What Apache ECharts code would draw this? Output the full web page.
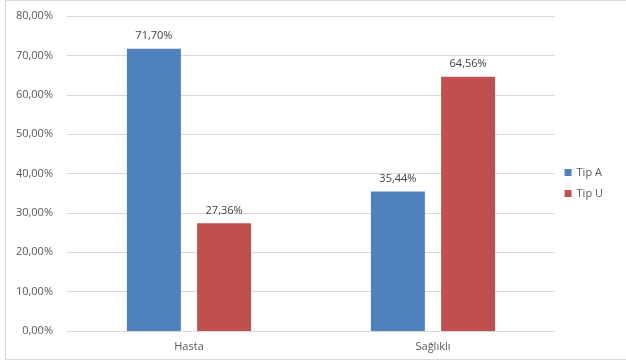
<!DOCTYPE html>
<html><head><meta charset="utf-8">
<script src="https://cdn.jsdelivr.net/npm/echarts@6/dist/echarts.min.js"></script>
<style>html,body{margin:0;padding:0;background:#fff}#c{width:626px;height:364px}</style>
</head><body><div id="c"></div>
<script>
const categories = ['Hasta', 'Sağlıklı'];
const tipA = [71.70, 35.44];
const tipU = [27.36, 64.56];
const seriesNames = ['Tip A', 'Tip U'];
const fmt = v => v.toFixed(2).replace('.', ',') + '%';
const chart = echarts.init(document.getElementById('c'), null, {renderer: 'canvas'});
const font = '"Open Sans", "Noto Sans", sans-serif';
chart.setOption({
  animation: false,
  textStyle: {fontFamily: font},
  graphic: [{type: 'rect', shape: {x: 5.5, y: 0.5, width: 640, height: 359}, style: {fill: 'none', stroke: '#d9d9d9', lineWidth: 1}}],
  grid: {left: 67, right: 71, top: 16, bottom: 33},
  legend: {
    orient: 'vertical', right: 18, top: 162, itemWidth: 7, itemHeight: 7, itemGap: 10,
    icon: 'rect', data: seriesNames,
    textStyle: {color: '#595959', fontSize: 11, fontFamily: font}
  },
  xAxis: {
    type: 'category', data: categories,
    axisLine: {show: true, lineStyle: {color: '#d9d9d9'}},
    axisTick: {show: false},
    axisLabel: {color: '#595959', fontSize: 11, margin: 10}
  },
  yAxis: {
    type: 'value', min: 0, max: 80, interval: 10,
    axisLine: {show: false}, axisTick: {show: false},
    splitLine: {lineStyle: {color: '#d9d9d9'}},
    axisLabel: {color: '#595959', fontSize: 11, margin: 14, formatter: v => fmt(v)}
  },
  series: [
    {name: seriesNames[0], type: 'bar', data: tipA, barWidth: 54, barGap: '30%',
     itemStyle: {color: '#4f81bd'},
     label: {show: true, position: 'top', distance: 7, color: '#404040', fontSize: 11, formatter: p => fmt(p.value)}},
    {name: seriesNames[1], type: 'bar', data: tipU, barWidth: 54, barGap: '30%',
     itemStyle: {color: '#c0504d'},
     label: {show: true, position: 'top', distance: 7, color: '#404040', fontSize: 11, formatter: p => fmt(p.value)}}
  ]
});
</script></body></html>
